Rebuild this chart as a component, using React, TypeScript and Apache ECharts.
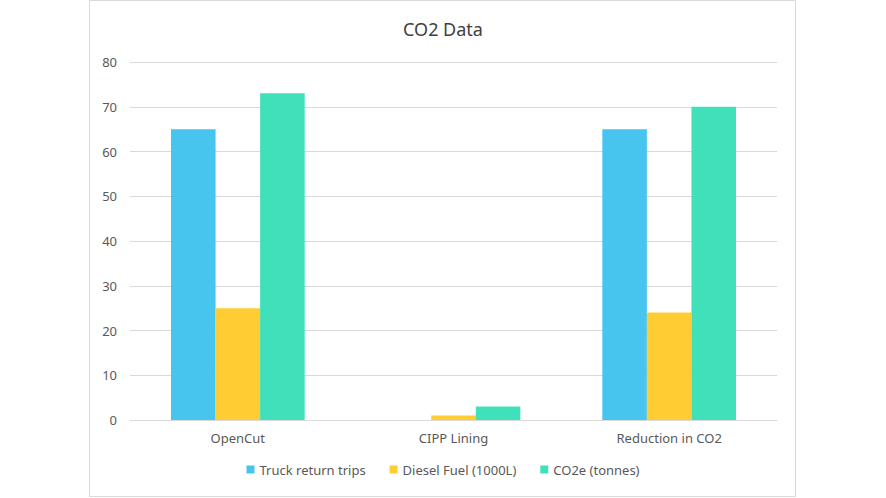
import React, { useEffect, useRef } from "react";
import * as echarts from "echarts";

const categories = ["OpenCut", "CIPP Lining", "Reduction in CO2"];
const truckTrips = [65, 0, 65];
const dieselFuel = [25, 1, 24];
const co2e = [73, 3, 70];
const seriesNames = ["Truck return trips", "Diesel Fuel (1000L)", "CO2e (tonnes)"];

export default function App() {
  const ref = useRef<HTMLDivElement>(null);
  useEffect(() => {
    const chart = echarts.init(ref.current!, null, { renderer: "svg" });
    const font = "Noto Sans";
    chart.setOption({
      animation: false,
      backgroundColor: "#ffffff",
      title: {
        text: "CO2 Data",
        left: "center",
        top: 15,
        textStyle: { fontFamily: font, fontSize: 18, fontWeight: "normal", color: "#404040" },
      },
      graphic: [
        {
          type: "rect",
          shape: { x: 89.5, y: 0.5, width: 706, height: 496 },
          style: { fill: "none", stroke: "#d9d9d9", lineWidth: 1 },
        },
      ],
      legend: {
        bottom: 17,
        left: "center",
        itemWidth: 8,
        itemHeight: 8,
        itemGap: 24,
        icon: "rect",
        textStyle: { fontFamily: font, fontSize: 13, color: "#595959" },
        data: seriesNames,
      },
      grid: { left: 130, right: 109, top: 62, bottom: 78 },
      xAxis: {
        type: "category",
        data: categories,
        axisLine: { lineStyle: { color: "#d9d9d9" } },
        axisTick: { show: false },
        axisLabel: { fontFamily: font, fontSize: 13, color: "#595959", margin: 11 },
      },
      yAxis: {
        type: "value",
        min: 0,
        max: 80,
        interval: 10,
        axisLine: { show: false },
        axisTick: { show: false },
        splitLine: { lineStyle: { color: "#d9d9d9" } },
        axisLabel: { fontFamily: font, fontSize: 13, color: "#595959", margin: 13 },
      },
      series: [
        { name: seriesNames[0], type: "bar", data: truckTrips, itemStyle: { color: "#47C5EE" }, barGap: "0%", barCategoryGap: "38%" },
        { name: seriesNames[1], type: "bar", data: dieselFuel, itemStyle: { color: "#FFCD33" }, barGap: "0%", barCategoryGap: "38%" },
        { name: seriesNames[2], type: "bar", data: co2e, itemStyle: { color: "#40E1BA" }, barGap: "0%", barCategoryGap: "38%" },
      ],
    });
    return () => chart.dispose();
  }, []);
  return <div ref={ref} style={{ position: "fixed", left: 0, top: 0, width: 886, height: 498 }} />;
}
